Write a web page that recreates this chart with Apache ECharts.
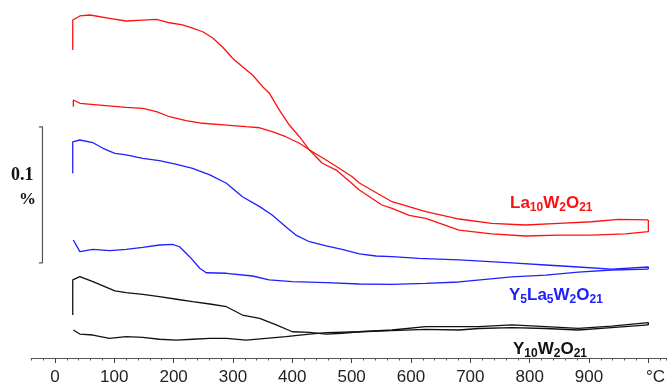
<!DOCTYPE html>
<html><head><meta charset="utf-8">
<script src="https://cdn.jsdelivr.net/npm/echarts@6/dist/echarts.min.js"></script>
<style>html,body{margin:0;padding:0;background:#fff}#c{width:668px;height:387px}</style>
</head><body><div id="c"></div>
<script>
// Temperature (°C) and relative mass signal (%)
const laAT = [30,30,42,59,92,120,148,171,193,215,232,249,266,282,299,316,333,350,361,378,395,412,429,450,474,501,513,551,568,597,625,681,736,793,849,904,961,1000,1000];
const laAY = [0.2265,0.2485,0.2515,0.2522,0.2498,0.2478,0.2485,0.2490,0.2465,0.2449,0.2426,0.2399,0.2353,0.2289,0.2206,0.2142,0.2081,0.1995,0.1949,0.1824,0.1713,0.1627,0.1529,0.1434,0.1382,0.1282,0.1235,0.1125,0.1100,0.1048,0.1027,0.0941,0.0912,0.0897,0.0904,0.0904,0.0912,0.0929,0.1015];
const laBT = [31,31,42,76,120,148,171,193,221,249,289,322,345,366,389,412,434,457,479,501,513,568,625,681,736,793,849,904,950,1000];
const laBY = [0.1848,0.1897,0.1873,0.1860,0.1843,0.1836,0.1811,0.1774,0.1745,0.1726,0.1713,0.1701,0.1693,0.1664,0.1627,0.1579,0.1517,0.1456,0.1395,0.1333,0.1287,0.1149,0.1076,0.1022,0.0990,0.0978,0.0990,0.1002,0.1020,0.1015];
const ylAT = [30,30,42,64,81,101,120,148,176,205,232,261,289,316,345,366,389,406,429,457,484,513,541,568,613,681,770,827,882,938,1000,1000];
const ylAY = [0.1358,0.1590,0.1603,0.1583,0.1542,0.1505,0.1493,0.1468,0.1451,0.1424,0.1395,0.1346,0.1285,0.1186,0.1113,0.1051,0.0965,0.0904,0.0855,0.0824,0.0799,0.0765,0.0750,0.0745,0.0733,0.0721,0.0699,0.0684,0.0669,0.0654,0.0669,0.0654];
const ylBT = [31,42,64,92,120,148,176,198,210,227,244,255,289,333,361,400,457,513,568,625,681,770,827,882,938,1000];
const ylBY = [0.0868,0.0782,0.0799,0.0789,0.0799,0.0814,0.0831,0.0836,0.0818,0.0745,0.0660,0.0627,0.0623,0.0603,0.0574,0.0561,0.0554,0.0544,0.0542,0.0549,0.0559,0.0596,0.0610,0.0632,0.0647,0.0654];
const yAT = [30,30,42,64,101,120,148,176,205,232,261,289,316,345,373,400,429,457,484,513,568,625,681,714,770,827,882,938,1000,1000];
const yAY = [0.0316,0.0574,0.0598,0.0561,0.0493,0.0480,0.0468,0.0451,0.0432,0.0414,0.0397,0.0377,0.0316,0.0292,0.0243,0.0193,0.0189,0.0176,0.0182,0.0193,0.0206,0.0230,0.0230,0.0230,0.0243,0.0230,0.0218,0.0235,0.0260,0.0243];
const yBT = [31,42,64,92,120,148,176,205,232,261,289,322,356,389,429,457,513,568,625,681,714,770,827,882,938,1000];
const yBY = [0.0206,0.0176,0.0169,0.0145,0.0157,0.0152,0.0138,0.0132,0.0138,0.0145,0.0145,0.0132,0.0145,0.0157,0.0176,0.0186,0.0193,0.0201,0.0211,0.0206,0.0217,0.0224,0.0217,0.0206,0.0224,0.0243];
// 0.1 % scale bar
const scaleT = [-27,-21,-21,-27];
const scaleY = [0.17,0.17,0.07,0.07];
// axis ticks / labels
const majorTicks = [0,100,200,300,400,500,600,700,800,900,1000];
const tickLabels = [0,100,200,300,400,500,600,700,800,900,1012];

const pair = (t, y) => t.map((v, i) => [v, y[i]]);
const RED = '#ff1010', BLUE = '#2020ff', BLACK = '#111111';
const line = (t, y, c) => ({type:'line', data: pair(t, y), showSymbol:false, symbol:'none',
  lineStyle:{color:c, width:1.3}, itemStyle:{color:c}, silent:true, animation:false, z:3});

const sub = (c) => ({
  m:{fontSize:17, fontWeight:'bold', fontFamily:'Liberation Sans', color:c, lineHeight:22},
  s:{fontSize:12, fontWeight:'bold', fontFamily:'Liberation Sans', color:c, lineHeight:12, verticalAlign:'bottom'}
});

const chart = echarts.init(document.getElementById('c'), null, {renderer:'canvas'});
chart.setOption({
  animation:false,
  backgroundColor:'#fff',
  grid:{left:31.2, right:0.15, top:0, bottom:29, containLabel:false},
  xAxis:[
    {type:'value', min:-40, max:1030, interval:20,
     axisLine:{show:true, lineStyle:{color:'#555', width:1}},
     axisTick:{show:true, length:2.5, lineStyle:{color:'#555'}},
     axisLabel:{show:false}, splitLine:{show:false}},
    {type:'value', min:-40, max:1030, position:'bottom',
     axisLine:{show:false},
     axisTick:{show:true, length:5, customValues:majorTicks, lineStyle:{color:'#444'}},
     axisLabel:{show:true, customValues:tickLabels, margin:11, fontSize:17,
       fontFamily:'Liberation Sans', color:'#222',
       formatter:(v)=> v > 1000 ? '°C' : String(v)},
     splitLine:{show:false}}
  ],
  yAxis:{type:'value', min:0, max:0.26324, show:false, splitLine:{show:false}},
  title:[
    {text:'{m|La}{s|10}{m|W}{s|2}{m|O}{s|21}', left:510, top:192, padding:0, textStyle:{rich:sub(RED)}},
    {text:'{m|Y}{s|5}{m|La}{s|5}{m|W}{s|2}{m|O}{s|21}', left:509, top:284, padding:0, textStyle:{rich:sub(BLUE)}},
    {text:'{m|Y}{s|10}{m|W}{s|2}{m|O}{s|21}', left:513, top:338, padding:0, textStyle:{rich:sub(BLACK)}},
    {text:'0.1', left:11, top:166, padding:0, textStyle:{fontSize:18, fontWeight:'bold', fontFamily:'Liberation Serif', color:'#111'}},
    {text:'%', left:19, top:191, padding:0, textStyle:{fontSize:17, fontWeight:'bold', fontFamily:'Liberation Serif', color:'#111'}}
  ],
  series:[
    {type:'line', data:pair(scaleT, scaleY), showSymbol:false, symbol:'none',
     lineStyle:{color:'#555', width:1.2}, silent:true, animation:false},
    line(laAT, laAY, RED),
    line(laBT, laBY, RED),
    line(ylAT, ylAY, BLUE),
    line(ylBT, ylBY, BLUE),
    line(yAT, yAY, BLACK),
    line(yBT, yBY, BLACK)
  ]
});
</script></body></html>
